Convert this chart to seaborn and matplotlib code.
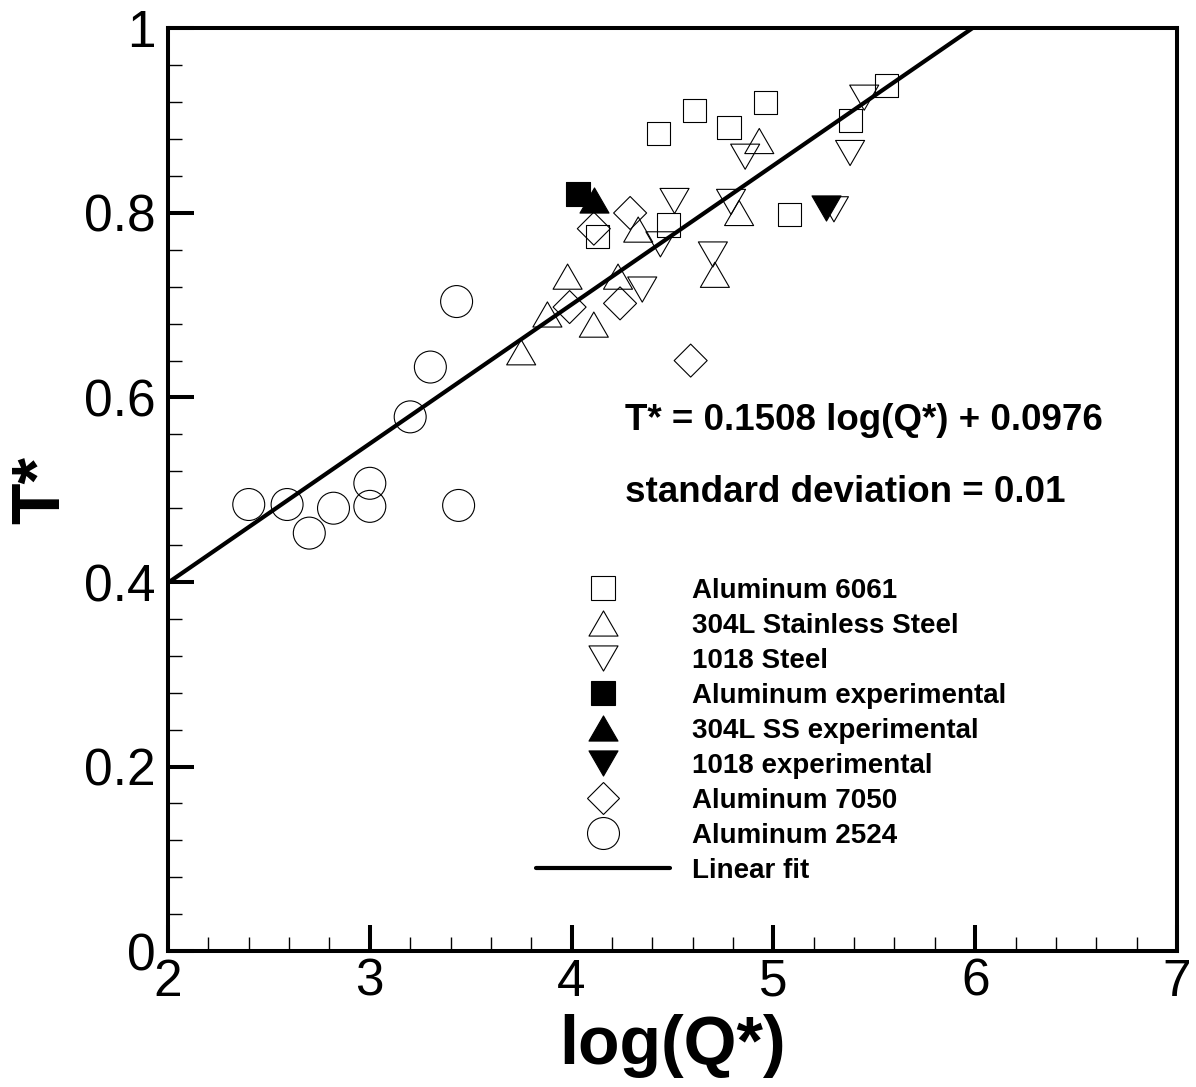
import numpy as np
import matplotlib
matplotlib.use("Agg")
import matplotlib.pyplot as plt
from matplotlib.lines import Line2D
from matplotlib.path import Path
from matplotlib.ticker import MultipleLocator, FuncFormatter
import seaborn as sns

# ----------------------------------------------------------
# data
# ----------------------------------------------------------
al6061_x = [4.43, 4.61, 4.78, 4.96, 4.13, 4.48, 5.08, 5.38, 5.56]
al6061_y = [0.886, 0.911, 0.893, 0.920, 0.775, 0.787, 0.798, 0.900, 0.938]

ss304_x = [4.93, 4.83, 4.33, 3.98, 4.23, 3.88, 4.11, 3.75, 4.71]
ss304_y = [0.878, 0.800, 0.782, 0.731, 0.731, 0.690, 0.679, 0.649, 0.733]

st1018_x = [4.86, 4.51, 4.79, 4.44, 4.35, 4.70, 5.45, 5.38, 5.30]
st1018_y = [0.861, 0.813, 0.812, 0.766, 0.717, 0.755, 0.925, 0.865, 0.804]

al_exp_x = [4.03]
al_exp_y = [0.821]
ss_exp_x = [4.11]
ss_exp_y = [0.814]
st_exp_x = [5.26]
st_exp_y = [0.805]

al7050_x = [4.29, 4.11, 3.99, 4.24, 4.59]
al7050_y = [0.800, 0.783, 0.698, 0.702, 0.640]

al2524_x = [2.40, 2.59, 2.70, 2.82, 3.00, 3.00, 3.20, 3.30, 3.43, 3.44]
al2524_y = [0.484, 0.484, 0.453, 0.480, 0.507, 0.482, 0.579, 0.633, 0.704, 0.483]

fit_slope = 0.1508
fit_icept = 0.0976
fit_x = np.array([2.0, 7.0])

labels = ['Aluminum 6061', '304L Stainless Steel', '1018 Steel',
          'Aluminum experimental', '304L SS experimental', '1018 experimental',
          'Aluminum 7050', 'Aluminum 2524', 'Linear fit']

# ----------------------------------------------------------
# style
# ----------------------------------------------------------
sns.set_style("ticks")
plt.rcParams['font.family'] = ['Liberation Sans', 'DejaVu Sans']
plt.rcParams['text.color'] = 'black'
plt.rcParams['axes.labelcolor'] = 'black'
plt.rcParams['xtick.color'] = 'black'
plt.rcParams['ytick.color'] = 'black'

codes = [Path.MOVETO, Path.LINETO, Path.LINETO, Path.CLOSEPOLY]
tri_up = Path([(-1, -0.866), (1, -0.866), (0, 0.866), (-1, -0.866)], codes)
tri_dn = Path([(-1, 0.866), (1, 0.866), (0, -0.866), (-1, 0.866)], codes)

fig = plt.figure(figsize=(11.96, 10.87), dpi=100)
ax = fig.add_axes([0.1405, 0.1251, 0.8436, 0.8487])

mew = 0.8
series = [
    (al6061_x, al6061_y, 's', 16.6, 'none'),
    (ss304_x, ss304_y, tri_up, 20.9, 'none'),
    (st1018_x, st1018_y, tri_dn, 20.9, 'none'),
    (al7050_x, al7050_y, 'D', 16.8, 'none'),
    (al2524_x, al2524_y, 'o', 23.0, 'none'),
    (al_exp_x, al_exp_y, 's', 16.6, 'black'),
    (ss_exp_x, ss_exp_y, tri_up, 20.9, 'black'),
    (st_exp_x, st_exp_y, tri_dn, 20.9, 'black'),
]
for xs, ys, mk, ms, fc in series:
    sns.scatterplot(x=xs, y=ys, marker=mk, s=ms ** 2, facecolor=fc,
                    edgecolor='black', linewidth=mew, ax=ax, legend=False, zorder=3)

sns.lineplot(x=fit_x, y=fit_slope * fit_x + fit_icept, color='black', lw=3,
             ax=ax, zorder=4)

ax.set_xlim(2, 7)
ax.set_ylim(0, 1)
ax.xaxis.set_major_locator(MultipleLocator(1))
ax.xaxis.set_minor_locator(MultipleLocator(0.2))
ax.yaxis.set_major_locator(MultipleLocator(0.2))
ax.yaxis.set_minor_locator(MultipleLocator(0.04))
fmt = FuncFormatter(lambda v, p: f'{v:g}')
ax.xaxis.set_major_formatter(fmt)
ax.yaxis.set_major_formatter(fmt)

for sp in ax.spines.values():
    sp.set_linewidth(2.9)
    sp.set_color('black')
ax.tick_params(which='major', direction='in', length=19, width=2.9,
               labelsize=37, top=False, right=False, color='black',
               labelcolor='black')
ax.tick_params(which='minor', direction='in', length=10, width=1.0,
               top=False, right=False, color='black')
ax.tick_params(axis='x', which='major', pad=5)
ax.tick_params(axis='y', which='major', pad=9)

ax.set_xlabel('log(Q*)', fontsize=49, fontweight='bold', labelpad=5, color='black')
ax.set_ylabel('T*', fontsize=49, fontweight='bold', labelpad=8, color='black')

ax.text(4.265, 0.565, 'T* = 0.1508 log(Q*) + 0.0976', fontsize=26.5,
        fontweight='bold', va='baseline', ha='left', color='black')
ax.text(4.265, 0.487, 'standard deviation = 0.01', fontsize=26.5,
        fontweight='bold', va='baseline', ha='left', color='black')

# legend
handles = [
    Line2D([], [], ls='none', marker='s', ms=16.6, mfc='none', mec='black', mew=mew),
    Line2D([], [], ls='none', marker=tri_up, ms=20.9, mfc='none', mec='black', mew=mew),
    Line2D([], [], ls='none', marker=tri_dn, ms=20.9, mfc='none', mec='black', mew=mew),
    Line2D([], [], ls='none', marker='s', ms=16.6, mfc='black', mec='black', mew=mew),
    Line2D([], [], ls='none', marker=tri_up, ms=20.9, mfc='black', mec='black', mew=mew),
    Line2D([], [], ls='none', marker=tri_dn, ms=20.9, mfc='black', mec='black', mew=mew),
    Line2D([], [], ls='none', marker='D', ms=16.8, mfc='none', mec='black', mew=mew),
    Line2D([], [], ls='none', marker='o', ms=23.0, mfc='none', mec='black', mew=mew),
    Line2D([], [], color='black', lw=3),
]
leg = ax.legend(handles, labels, loc='upper left', bbox_to_anchor=(0.3647, 0.4045),
                frameon=False, borderpad=0, borderaxespad=0, handlelength=4.82,
                handletextpad=0.79, labelspacing=0.325,
                prop={'size': 20, 'weight': 'bold'}, labelcolor='black')

fig.savefig('out.png', dpi=100)
